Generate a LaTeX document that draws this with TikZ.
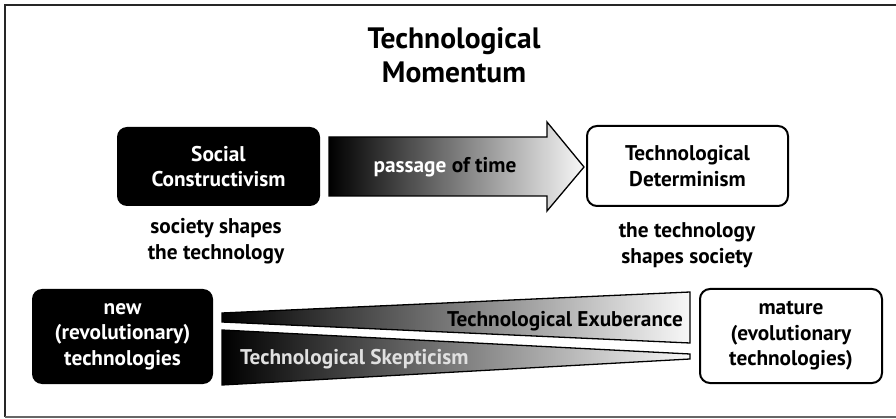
\documentclass[tikz,border=0pt]{standalone}
\usepackage{fontspec}
\setmainfont{PT Sans}
\begin{document}
\begin{tikzpicture}[x=1pt,y=-1pt,
  txt/.style={font=\bfseries\fontsize{21.3}{25.5}\selectfont, align=center, inner sep=0pt},
  darkbox/.style={txt, fill=black, text=white, rounded corners=10pt, inner sep=0pt},
  lightbox/.style={txt, draw=black, line width=2pt, fill=white, rounded corners=10pt, inner sep=0pt},
  ramp/.style={left color=black, right color=gray!6, draw=black, line width=1.3pt, line join=miter}]
\useasboundingbox (0,0) rectangle (896,419);
% frame
\draw[line width=2pt, black!85] (5,417) -- (5,5) -- (905,5);
\draw[line width=1.5pt, black!60] (5,417) -- (905,417);
% title
\node[txt, font=\bfseries\fontsize{29.5}{34}\selectfont] (title) at (454,55) {Technological\\Momentum};
% top row
\node[darkbox, minimum width=203pt, minimum height=79pt] (social) at (218.5,166.5) {Social\\Constructivism};
\node[lightbox, minimum width=201pt, minimum height=80pt] (determ) at (687.5,166) {Technological\\Determinism};
\shadedraw[ramp] (329,137) -- (547,137) -- (547,122) -- (584,167) -- (547,211) -- (547,196) -- (329,196) -- cycle;
\node[txt] (time) at (445,167) {\textcolor{white}{passage} of time};
\node[txt] (socsh) at (216,241) {society shapes\\the technology};
\node[txt] (techsh) at (687,245) {the technology\\shapes society};
% bottom row
\node[darkbox, minimum width=181pt, minimum height=95pt] (new) at (122.5,336.5) {new\\(revolutionary)\\technologies};
\node[lightbox, minimum width=182pt, minimum height=94pt] (mature) at (791,336) {mature\\(evolutionary\\technologies)};
\shadedraw[ramp] (222,313) -- (690,292) -- (690,343) -- (222,322) -- cycle;
\shadedraw[ramp] (222,330) -- (690,354) -- (690,359) -- (222,385) -- cycle;
\node[txt, anchor=east] (exub) at (683,321) {Technological Exuberance};
\node[txt, anchor=west, text=white!88!black] (skep) at (240,359) {Technological Skepticism};
\end{tikzpicture}
\end{document}
